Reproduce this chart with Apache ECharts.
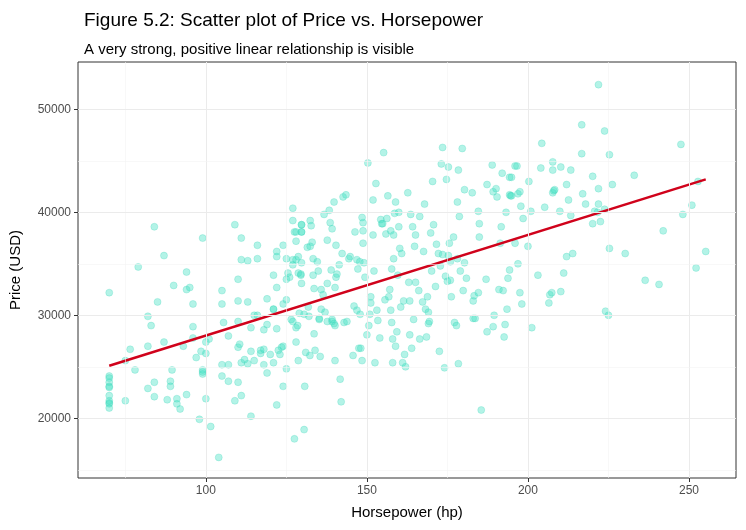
<!DOCTYPE html>
<html><head><meta charset="utf-8">
<script src="https://cdn.jsdelivr.net/npm/echarts@6/dist/echarts.min.js"></script>
<style>html,body{margin:0;padding:0;background:#fff}#c{width:746px;height:530px}</style>
</head><body><div id="c"></div>
<script>
const horsepower = [70,70,70,70,70,70,70,70,70,70,70,75,75,76.5,78,79,82,82,82,83,84,84,84,85,87,87,88,89,89,89.5,90,91,91,92,93,94,94,94,95,96,96,96,97,98.5,99,99,99,99,100,100,101,100,101.5,98,104,105,105,105,105,105.5,107,107,107,109,109,110,110,110,110,110,110.5,111,111,111,111,112,113,113,113,114,114,114,115,115,116,116,116,117,117,118,118,118,119,119,119,120,121,121,121,121,122,122,122,122,122,122.5,123,123.5,124,124,124,124,125,125,125,125,125.5,126,126.5,127,127,127,127,127,127.5,127.5,128,128,128,128,128,128.5,128.7,128.7,128.7,
129,129.5,129.7,129.7,129.7,129.7,129.7,129.5,129.7,130.5,131,130.7,130.5,131.5,131.8,132,132.3,132.4,132.4,132.7,133.3,133.6,133.9,133.6,133.3,133,134.6,134.9,135.2,135.2,135.5,135.8,135.8,136.4,136.7,137,137.7,137.7,137.7,138.3,138.6,138.9,139.2,139.2,139.2,139.8,139.8,140.1,140.1,140.1,140.4,140.4,140.7,141.4,141.7,142,142.3,142.6,142.9,143.5,143.8,144.4,144.8,145.7,146,146.3,146.9,146.9,147.2,147.5,147.8,147.9,148.1,148.5,148.5,148.8,148.8,148.8,149.1,149.4,150,150.3,150.6,150.9,151.2,151.2,151.9,151.9,152.2,152.5,152.8,153.1,153.4,154,154.3,154.6,154.9,155.2,155.6,155.9,156.2,156.5,156.8,157.1,157.4,157.4,157.7,157.7,158,158,158.3,158.3,158.6,158.9,158.9,159.3,159.6,159.9,159.9,160.2,160.5,160.8,161.1,161.4,161.7,162,162.7,163,163.3,163.3,163.6,163.9,164.2,164.5,164.8,165.1,165.1,166.1,166.4,166.4,167.3,167.6,167.9,168.2,168.5,168.8,169.1,169.1,169.4,169.8,170.1,170.4,170.7,171.3,171.6,172.2,172.5,172.8,173.1,173.5,173.5,174.1,174.4,174.7,175,175.3,175.3,175.6,175.9,175.9,176.2,176.9,177.2,177.8,178.1,178.1,178.4,178.4,178.7,179,179.6,179.9,180.3,180.3,180.9,182.7,183,183,183.3,183.6,184.6,184.6,184.9,184.9,185.5,187,187.3,187.3,188.9,189.2,189.2,189.5,190.1,190.4,191,191.4,191.7,192,192.3,192.6,192.9,193.2,193.5,193.8,
194.3,194.3,194.3,194.6,194.9,194.9,196,196,196.6,196.9,196.9,197.5,197.5,197.8,198.1,198.5,200,200.3,200.9,201.2,203.1,204,204.3,205.2,206.5,206.8,207.4,207.7,207.7,207.7,208,208.3,209.9,210.2,210.2,211.1,212,212,212.6,213.3,213.3,213.9,216.7,216.7,217,217.9,220.1,220.1,220.7,221.6,221.9,221.9,221.9,222.5,223.8,223.8,224.1,225,225.3,225.3,226.2,230.2,233,236.4,240.7,242,247.5,248.1,250.9,252.2,252.8,255.2];
const price = [24100,23900,23500,23100,23000,22200,21700,21500,21400,21000,32200,25600,21700,26700,24700,34700,29900,27000,22900,29000,38600,23500,22100,31300,35800,27400,21800,23600,23100,24700,32900,21900,21400,20900,27000,34200,22300,32500,32700,31100,28900,27800,25900,26500,37500,24700,24300,24500,21900,26300,27700,27400,19200,19900,16200,24100,25200,32400,31100,29300,25200,23600,28000,21700,38800,29400,23500,33500,26900,31400,27200,25400,22200,37500,35400,25700,31300,25300,35300,28800,26500,20200,25600,30000,36800,35500,30000,26300,26600,26700,28600,25200,24400,29100,31600,26200,30600,25400,30600,33900,21300,28700,32700,35700,36200,26600,26200,26900,23100,27000,31100,36800,33500,35500,31500,24800,34100,33700,29600,40400,34900,35400,29400,39200,38100,18000,35400,28800,38100,27400,37200,29000,35700,34100,25600,30200,33900,38800,38100,
38800,38100,35100,34000,33100,30100,26400,23100,18900,36600,30800,29900,26100,36700,39200,38700,33900,32600,26600,28200,35500,37100,35200,34300,29700,29600,26000,30600,32500,32000,39800,30300,29400,37300,33100,40200,39000,34400,29600,29400,38400,29200,41000,32700,29000,25600,33700,36800,34000,34900,23800,21600,36000,41500,29300,41700,29400,35500,35700,26100,30900,38100,30500,35400,34500,26800,35200,30100,26800,25600,39500,38200,39000,37000,35100,33700,28100,44800,29000,30100,31200,31800,41200,37800,34300,25400,42800,30500,29500,27800,39300,38900,38900,45800,31500,37900,39400,41600,31800,32500,30500,38200,34500,29300,25400,27700,37800,35500,39900,27000,41000,28400,33900,38600,40000,36500,30800,36000,25400,31400,26200,25000,41900,33200,31400,28100,39800,26800,38600,29600,36700,37800,33200,32400,27700,39600,31300,36200,40800,30600,27900,31800,30300,29200,29400,38000,34300,43000,38800,32800,36900,36000,26500,34800,44700,46300,35900,24900,33800,43200,33300,35800,44400,37000,35200,33400,31800,37600,29300,29000,35500,41000,25300,44100,39600,34300,46200,32400,42200,35100,33600,41900,31400,29700,31900,29700,40100,32200,38900,37600,20800,33500,42700,28400,44600,28900,42000,30000,42300,41500,32500,37000,38600,43800,32400,27900,29100,40000,30600,33600,34400,41700,43400,41600,
43400,41600,37000,44500,44500,41800,35000,32200,42000,40600,31100,39400,36700,43000,40100,28800,33900,44300,46700,40500,31200,32000,32200,44900,44100,41900,42100,42200,40100,32300,44400,34100,35700,42700,41200,44100,39700,36000,48500,45700,41800,40800,43500,38900,40100,40000,52400,40800,42300,39100,47900,40300,30400,30000,45600,36500,42700,36000,43600,33400,33000,38200,46600,39800,40700,34600,43000,36200,44400,45200,45800,40300];
const fitHp = [70, 255.2];
const fitPrice = [25100, 43200];
const xMajor = [100,150,200,250];
const xMinor = [75,125,175,225];
const yMajor = [20000,30000,40000,50000];
const yMinor = [15000,25000,35000,45000];

const pts = horsepower.map((h,i)=>[h, price[i]]);
const chart = echarts.init(document.getElementById('c'));
const font = 'Liberation Sans, Arial, sans-serif';
const grid = [...xMajor.map(v=>({xAxis:v,lineStyle:{color:'#ebebeb',width:1,type:'solid'}})),
  ...xMinor.map(v=>({xAxis:v,lineStyle:{color:'#f3f3f3',width:0.6,type:'solid'}})),
  ...yMajor.map(v=>({yAxis:v,lineStyle:{color:'#ebebeb',width:1,type:'solid'}})),
  ...yMinor.map(v=>({yAxis:v,lineStyle:{color:'#f3f3f3',width:0.6,type:'solid'}}))];
chart.setOption({
  animation:false,
  title:[{text:'Figure 5.2: Scatter plot of Price vs. Horsepower',left:79,top:6,
    textStyle:{fontFamily:font,fontSize:19,fontWeight:'normal',color:'#000'}},
    {text:'A very strong, positive linear relationship is visible',left:79,top:37,
    textStyle:{fontFamily:font,fontSize:15,fontWeight:'normal',color:'#000'}}],
  grid:{left:78,right:10,top:62,bottom:52,show:true,borderColor:'#333',borderWidth:1,backgroundColor:'#fff'},
  xAxis:{type:'value',min:60.3,max:264.6,name:'Horsepower (hp)',nameLocation:'middle',nameGap:27,
    nameTextStyle:{fontFamily:font,fontSize:15,color:'#000'},
    axisLine:{show:false},splitLine:{show:false},
    axisTick:{show:true,length:4,lineStyle:{color:'#333'},customValues:xMajor},
    axisLabel:{customValues:xMajor,fontFamily:font,fontSize:12,color:'#4d4d4d',margin:7}},
  yAxis:{type:'value',min:14200,max:54600,name:'Price (USD)',nameLocation:'middle',nameGap:55,
    nameTextStyle:{fontFamily:font,fontSize:15,color:'#000'},
    axisLine:{show:false},splitLine:{show:false},
    axisTick:{show:true,length:4,lineStyle:{color:'#333'},customValues:yMajor},
    axisLabel:{customValues:yMajor,formatter:v=>String(v),fontFamily:font,fontSize:12,color:'#4d4d4d',margin:7}},
  series:[
    {type:'line',data:[],markLine:{silent:true,symbol:'none',label:{show:false},data:grid}},
    {type:'scatter',data:pts,symbolSize:7,itemStyle:{color:'rgba(64,224,196,0.5)',borderColor:'rgba(50,210,180,0.6)',borderWidth:0.5}},
    {type:'line',data:fitHp.map((h,i)=>[h,fitPrice[i]]),symbol:'none',lineStyle:{color:'#d0021b',width:2.5}}
  ]
});
</script></body></html>
